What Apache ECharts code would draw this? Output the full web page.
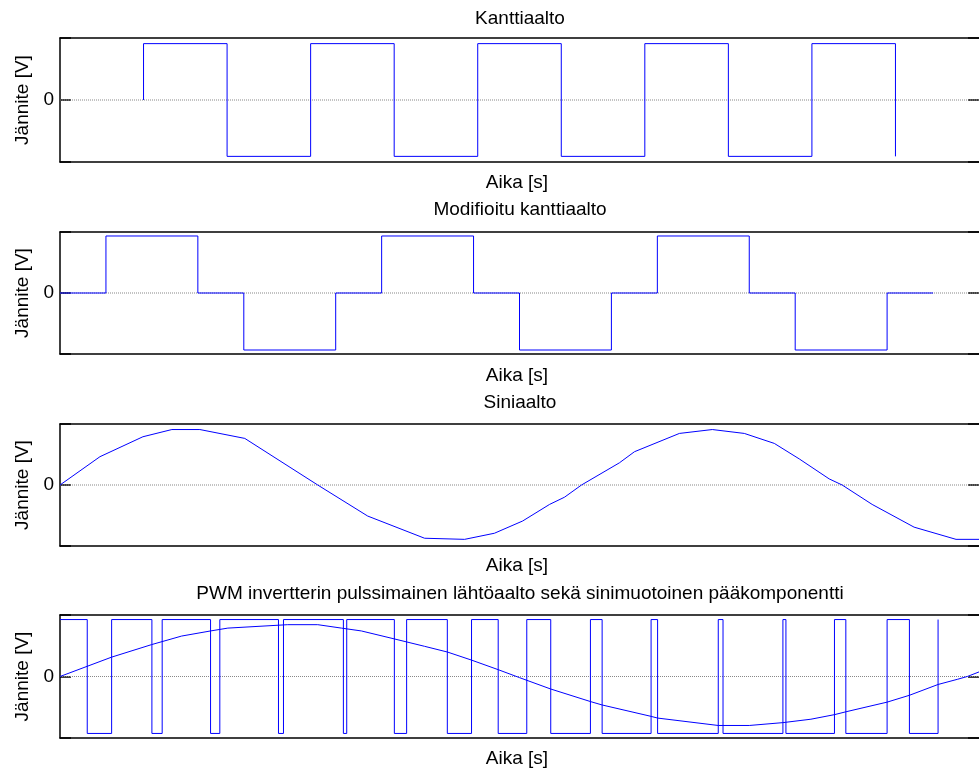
<!DOCTYPE html>
<html>
<head>
<meta charset="utf-8">
<script src="https://cdn.jsdelivr.net/npm/echarts@6/dist/echarts.min.js"></script>
<style>
html,body{margin:0;padding:0;background:#fff;}
#chart{width:979px;height:771px;}
</style>
</head>
<body>
<div id="chart"></div>
<script>
// ---- data (time in ms, voltage normalised) ----
var titles = ['Kanttiaalto', 'Modifioitu kanttiaalto', 'Siniaalto',
  'PWM invertterin pulssimainen lähtöaalto sekä sinimuotoinen pääkomponentti'];
var xName = 'Aika [s]';
var yName = 'Jännite [V]';
var yTickLabels = ['0'];

// square wave: segment edges and levels
var squareEdges = [10, 10, 20, 30, 40, 50, 60, 70, 80, 90, 100, 100];
var squareLevels = [0, 1, -1, 1, -1, 1, -1, 1, -1, 1, -1];

// modified square wave
var modEdges = [0, 5.5, 16.5, 22, 33, 38.5, 49.5, 55, 66, 71.5, 82.5, 88, 99, 104.5];
var modLevels = [0, 1, 0, -1, 0, 1, 0, -1, 0, 1, 0, -1, 0];

// sine wave samples
var sineT = [0, 4.78, 9.92, 13.39, 16.74, 22.12, 30.85, 36.83, 43.64, 48.43, 52.0, 55.37, 58.6, 60.39,
  62.42, 66.96, 68.76, 74.14, 78.08, 81.91, 85.5, 88.49, 92.07, 93.62, 97.21, 102.23, 107.25, 110];
var sineV = [0, 0.51, 0.87, 1.0, 1.0, 0.84, 0, -0.56, -0.96, -0.98, -0.87, -0.65, -0.35, -0.22,
  0, 0.4, 0.6, 0.93, 1.0, 0.93, 0.75, 0.47, 0.11, 0, -0.35, -0.76, -0.98, -0.98];

// PWM pulse train
var pwmEdges = [0, 3.26, 6.18, 11.0, 12.23, 18.02, 19.13, 26.15, 26.75, 33.92, 34.32, 40.02, 41.49,
  46.36, 49.26, 52.45, 55.87, 58.74, 63.49, 64.89, 70.75, 71.53, 78.79, 79.36, 86.53, 86.89,
  92.70, 94.06, 99.0, 101.67, 105.1, 105.1];
var pwmLevels = [1, -1, 1, -1, 1, -1, 1, -1, 1, -1, 1, -1, 1, -1, 1, -1, 1, -1, 1, -1, 1, -1, 1,
  -1, 1, -1, 1, -1, 1, -1, 1];

// PWM fundamental
var fundT = [0, 6.18, 10.96, 14.55, 18.02, 20.09, 27.26, 30.85, 33.68, 36.07, 40.02, 43.64, 46.36,
  49.22, 52.45, 55.0, 58.74, 63.49, 64.89, 70.75, 71.53, 78.79, 82.5, 86.53, 89.88, 92.70, 94.06,
  99.0, 101.67, 105.1, 107.4, 108.6, 110];
var fundV = [0, 0.34, 0.56, 0.71, 0.80, 0.85, 0.91, 0.91, 0.85, 0.80, 0.66, 0.53, 0.43,
  0.29, 0.12, -0.02, -0.22, -0.44, -0.50, -0.70, -0.73, -0.86, -0.86, -0.81, -0.75, -0.67, -0.62,
  -0.45, -0.33, -0.14, -0.05, 0.0, 0.08];

var zeroT = [0, 110];
var zeroV = [0, 0];

// ---- helpers ----
function steps(edges, levels) {
  var pts = [];
  for (var i = 0; i < levels.length; i++) {
    pts.push([edges[i], levels[i]]);
    pts.push([edges[i + 1], levels[i]]);
  }
  return pts;
}
function pairs(t, v) {
  return t.map(function (x, i) { return [x, v[i]]; });
}

var FONT = 'Liberation Sans, Arial, sans-serif';
var FS = 19;
var grids = [
  {top: 38, height: 124, r: 1.1},
  {top: 232, height: 122, r: 1.07},
  {top: 424, height: 122, r: 1.1},
  {top: 615, height: 123, r: 1.08}
];
var titleY = [18.5, 210, 402.5, 594];
var xNameY = [183, 375.5, 565.5, 759];
var frameLine = {show: true, onZero: false, lineStyle: {color: '#000', width: 1.5}};
var noLine = {show: false, onZero: false};

var option = {
  animation: false,
  backgroundColor: '#fff',
  grid: [], xAxis: [], yAxis: [], series: [], graphic: []
};

grids.forEach(function (g, i) {
  option.grid.push({left: 60, top: g.top, width: 920, height: g.height});
  ['bottom', 'top'].forEach(function (pos) {
    option.xAxis.push({type: 'value', gridIndex: i, position: pos, min: 0, max: 110,
      axisLine: frameLine, axisTick: {show: false}, axisLabel: {show: false},
      splitLine: {show: false}});
  });
  ['left', 'right'].forEach(function (pos) {
    option.yAxis.push({
      type: 'value', gridIndex: i, position: pos, min: -g.r, max: g.r, interval: g.r,
      axisLine: pos === 'left' ? frameLine : noLine,
      axisTick: {show: true, inside: true, length: 11, lineStyle: {color: '#000', width: 1.5}},
      axisLabel: {show: pos === 'left', margin: 6, color: '#000', fontSize: FS, fontFamily: FONT,
        formatter: function (v) { return Math.abs(v) < 1e-9 ? yTickLabels[0] : ''; }},
      splitLine: {show: false}
    });
  });
  option.series.push({
    type: 'line', xAxisIndex: i * 2, yAxisIndex: i * 2, data: pairs(zeroT, zeroV), showSymbol: false,
    symbol: 'none', z: 1, silent: true,
    lineStyle: {color: '#888888', width: 1, type: 'dotted'}
  });
  option.graphic.push({type: 'text', x: 520, y: titleY[i], z: 10,
    style: {text: titles[i], align: 'center', verticalAlign: 'middle', fill: '#000',
      font: FS + 'px ' + FONT}});
  option.graphic.push({type: 'text', x: 517, y: xNameY[i], z: 10,
    style: {text: xName, align: 'center', verticalAlign: 'middle', fill: '#000',
      font: FS + 'px ' + FONT}});
  option.graphic.push({type: 'text', x: 23, y: g.top + g.height / 2, rotation: Math.PI / 2, z: 10,
    style: {text: yName, align: 'center', verticalAlign: 'middle', fill: '#000',
      font: FS + 'px ' + FONT}});
});

function blue(i, data) {
  return {type: 'line', xAxisIndex: i * 2, yAxisIndex: i * 2, data: data, showSymbol: false,
    symbol: 'none', z: 3, silent: true, lineStyle: {color: '#0000ff', width: 1}};
}
option.series.push(blue(0, steps(squareEdges, squareLevels)));
option.series.push(blue(1, steps(modEdges, modLevels)));
option.series.push(blue(2, pairs(sineT, sineV)));
option.series.push(blue(3, steps(pwmEdges, pwmLevels)));
option.series.push(blue(3, pairs(fundT, fundV)));

var chart = echarts.init(document.getElementById('chart'));
chart.setOption(option);
</script>
</body>
</html>
